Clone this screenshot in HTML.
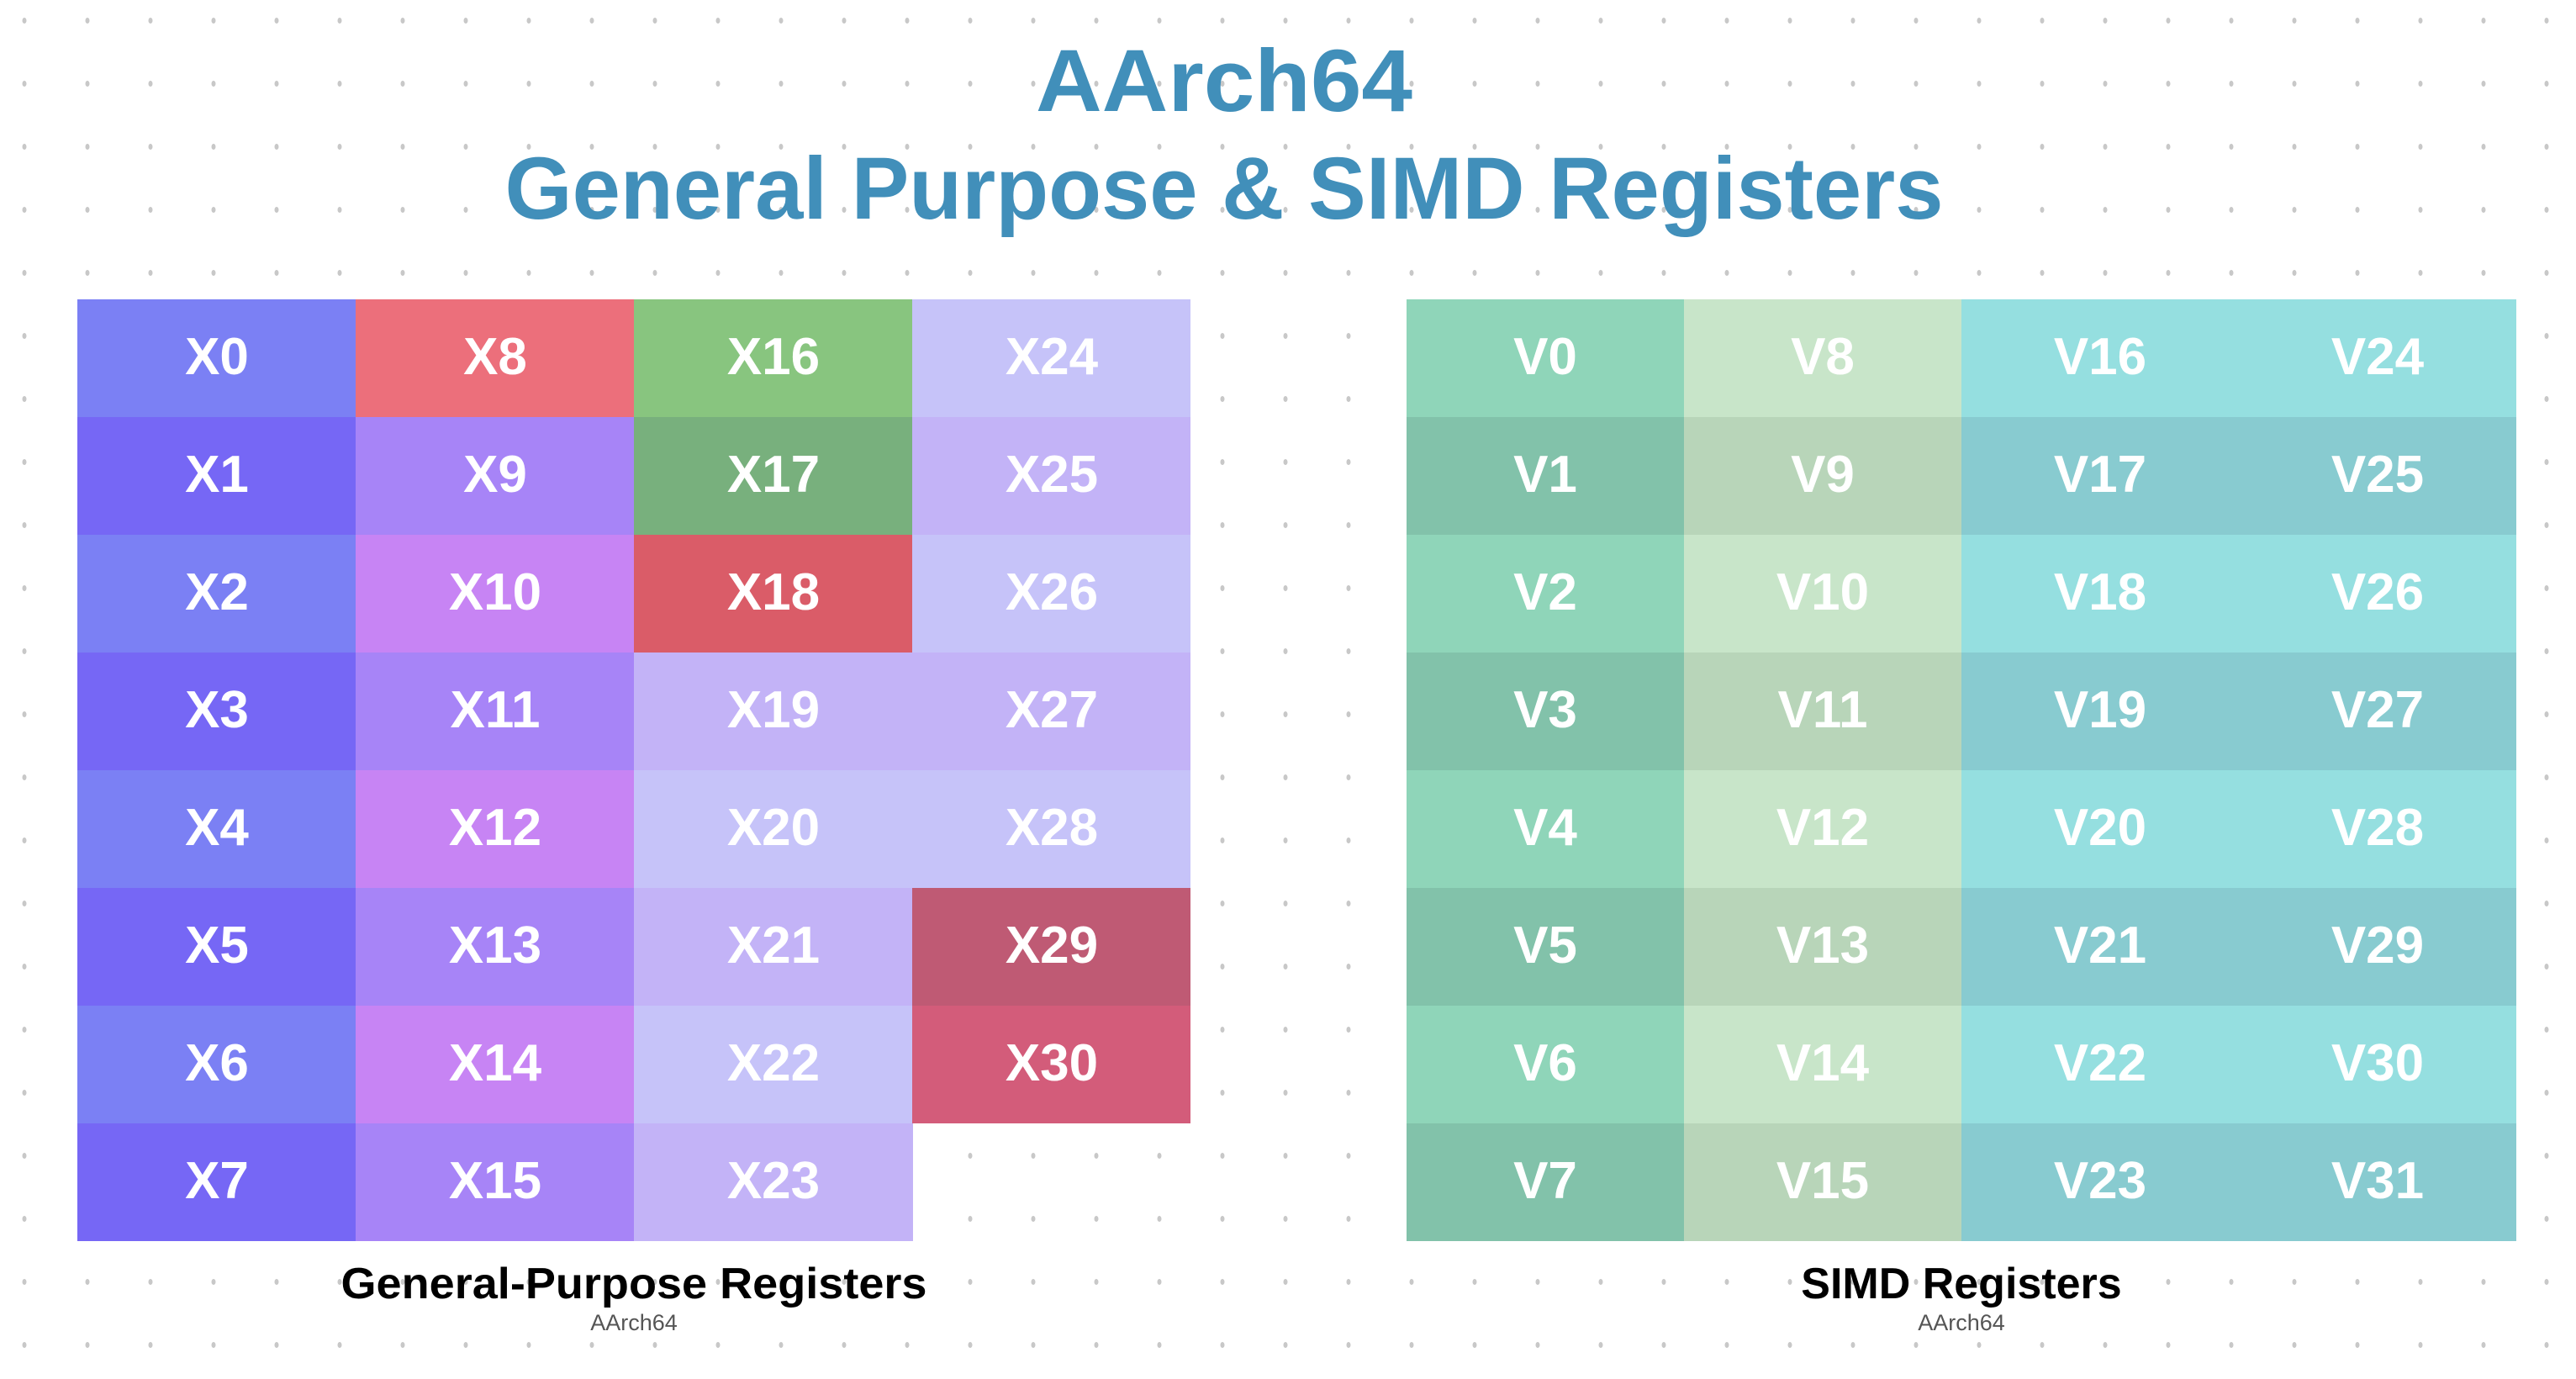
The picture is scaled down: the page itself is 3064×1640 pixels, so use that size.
<!DOCTYPE html>
<html><head><meta charset="utf-8"><style>html,body{margin:0;padding:0;background:#fff}svg{display:block}</style></head>
<body>
<svg xmlns="http://www.w3.org/2000/svg" width="3064" height="1640" viewBox="0 0 3064 1640">
<defs><pattern id="d" x="-8.5" y="-13" width="75" height="75" patternUnits="userSpaceOnUse"><ellipse cx="37.5" cy="37.5" rx="2.5" ry="3.5" fill="#c8c8c8"/></pattern></defs>
<rect width="3064" height="1640" fill="url(#d)"/>
<g font-family="Liberation Sans, sans-serif" font-weight="bold" text-anchor="middle">
<text x="1456" y="132" font-size="105" fill="#418fba" textLength="448" lengthAdjust="spacingAndGlyphs">AArch64</text>
<text x="1456" y="260" font-size="105" fill="#418fba" textLength="1711" lengthAdjust="spacingAndGlyphs">General Purpose &amp; SIMD Registers</text>
</g>
<g font-family="Liberation Sans, sans-serif" font-size="62" fill="#fff" text-anchor="middle">
<rect x="92" y="356" width="332" height="140" fill="#7b80f4"/><rect x="92" y="496" width="332" height="140" fill="#7667f5"/>
<rect x="92" y="636" width="332" height="140" fill="#7b80f4"/><rect x="92" y="776" width="332" height="140" fill="#7667f5"/>
<rect x="92" y="916" width="332" height="140" fill="#7b80f4"/><rect x="92" y="1056" width="332" height="140" fill="#7667f5"/>
<rect x="92" y="1196" width="332" height="140" fill="#7b80f4"/><rect x="92" y="1336" width="332" height="140" fill="#7667f5"/>
<rect x="423" y="356" width="332" height="140" fill="#ec6f7b"/><rect x="423" y="496" width="332" height="140" fill="#a784f7"/>
<rect x="423" y="636" width="332" height="140" fill="#c784f4"/><rect x="423" y="776" width="332" height="140" fill="#a784f7"/>
<rect x="423" y="916" width="332" height="140" fill="#c784f4"/><rect x="423" y="1056" width="332" height="140" fill="#a784f7"/>
<rect x="423" y="1196" width="332" height="140" fill="#c784f4"/><rect x="423" y="1336" width="332" height="140" fill="#a784f7"/>
<rect x="754" y="356" width="332" height="140" fill="#88c57f"/><rect x="754" y="496" width="332" height="140" fill="#78b07d"/>
<rect x="754" y="636" width="332" height="140" fill="#da5c68"/><rect x="754" y="776" width="332" height="140" fill="#c3b3f7"/>
<rect x="754" y="916" width="332" height="140" fill="#c6c3f9"/><rect x="754" y="1056" width="332" height="140" fill="#c3b3f7"/>
<rect x="754" y="1196" width="332" height="140" fill="#c6c3f9"/><rect x="754" y="1336" width="332" height="140" fill="#c3b3f7"/>
<rect x="1085" y="356" width="331" height="140" fill="#c6c3f9"/><rect x="1085" y="496" width="331" height="140" fill="#c3b3f7"/>
<rect x="1085" y="636" width="331" height="140" fill="#c6c3f9"/><rect x="1085" y="776" width="331" height="140" fill="#c3b3f7"/>
<rect x="1085" y="916" width="331" height="140" fill="#c6c3f9"/><rect x="1085" y="1056" width="331" height="140" fill="#bf5a74"/>
<rect x="1085" y="1196" width="331" height="140" fill="#d35c7a"/>
<rect x="1673" y="356" width="331" height="1120" fill="#8fd5b9"/><rect x="2003" y="356" width="331" height="1120" fill="#c8e5c9"/>
<rect x="2333" y="356" width="660" height="1120" fill="#95dfe0"/>
<rect x="1673" y="496" width="331" height="140" fill="#82c2aa"/><rect x="2003" y="496" width="331" height="140" fill="#b8d5b9"/><rect x="2333" y="496" width="660" height="140" fill="#88cbd0"/>
<rect x="1673" y="776" width="331" height="140" fill="#82c2aa"/><rect x="2003" y="776" width="331" height="140" fill="#b8d5b9"/><rect x="2333" y="776" width="660" height="140" fill="#88cbd0"/>
<rect x="1673" y="1056" width="331" height="140" fill="#82c2aa"/><rect x="2003" y="1056" width="331" height="140" fill="#b8d5b9"/><rect x="2333" y="1056" width="660" height="140" fill="#88cbd0"/>
<rect x="1673" y="1336" width="331" height="140" fill="#82c2aa"/><rect x="2003" y="1336" width="331" height="140" fill="#b8d5b9"/><rect x="2333" y="1336" width="660" height="140" fill="#88cbd0"/>
<g font-weight="bold">
<text x="258" y="445">X0</text><text x="258" y="585">X1</text><text x="258" y="725">X2</text><text x="258" y="865">X3</text><text x="258" y="1005">X4</text><text x="258" y="1145">X5</text><text x="258" y="1285">X6</text><text x="258" y="1425">X7</text>
<text x="589" y="445">X8</text><text x="589" y="585">X9</text><text x="589" y="725">X10</text><text x="589" y="865">X11</text><text x="589" y="1005">X12</text><text x="589" y="1145">X13</text><text x="589" y="1285">X14</text><text x="589" y="1425">X15</text>
<text x="920" y="445">X16</text><text x="920" y="585">X17</text><text x="920" y="725">X18</text><text x="920" y="865">X19</text><text x="920" y="1005">X20</text><text x="920" y="1145">X21</text><text x="920" y="1285">X22</text><text x="920" y="1425">X23</text>
<text x="1251" y="445">X24</text><text x="1251" y="585">X25</text><text x="1251" y="725">X26</text><text x="1251" y="865">X27</text><text x="1251" y="1005">X28</text><text x="1251" y="1145">X29</text><text x="1251" y="1285">X30</text>
<text x="1838" y="445">V0</text><text x="1838" y="585">V1</text><text x="1838" y="725">V2</text><text x="1838" y="865">V3</text><text x="1838" y="1005">V4</text><text x="1838" y="1145">V5</text><text x="1838" y="1285">V6</text><text x="1838" y="1425">V7</text>
<text x="2168" y="445">V8</text><text x="2168" y="585">V9</text><text x="2168" y="725">V10</text><text x="2168" y="865">V11</text><text x="2168" y="1005">V12</text><text x="2168" y="1145">V13</text><text x="2168" y="1285">V14</text><text x="2168" y="1425">V15</text>
<text x="2498" y="445">V16</text><text x="2498" y="585">V17</text><text x="2498" y="725">V18</text><text x="2498" y="865">V19</text><text x="2498" y="1005">V20</text><text x="2498" y="1145">V21</text><text x="2498" y="1285">V22</text><text x="2498" y="1425">V23</text>
<text x="2828" y="445">V24</text><text x="2828" y="585">V25</text><text x="2828" y="725">V26</text><text x="2828" y="865">V27</text><text x="2828" y="1005">V28</text><text x="2828" y="1145">V29</text><text x="2828" y="1285">V30</text><text x="2828" y="1425">V31</text>
</g>
</g>
<g font-family="Liberation Sans, sans-serif" text-anchor="middle">
<text x="754" y="1544" font-size="52" font-weight="bold" fill="#000" textLength="697" lengthAdjust="spacingAndGlyphs">General-Purpose Registers</text>
<text x="754" y="1582" font-size="27" fill="#555">AArch64</text>
<text x="2333" y="1544" font-size="52" font-weight="bold" fill="#000">SIMD Registers</text>
<text x="2333" y="1582" font-size="27" fill="#555">AArch64</text>
</g>
</svg>
</body></html>
